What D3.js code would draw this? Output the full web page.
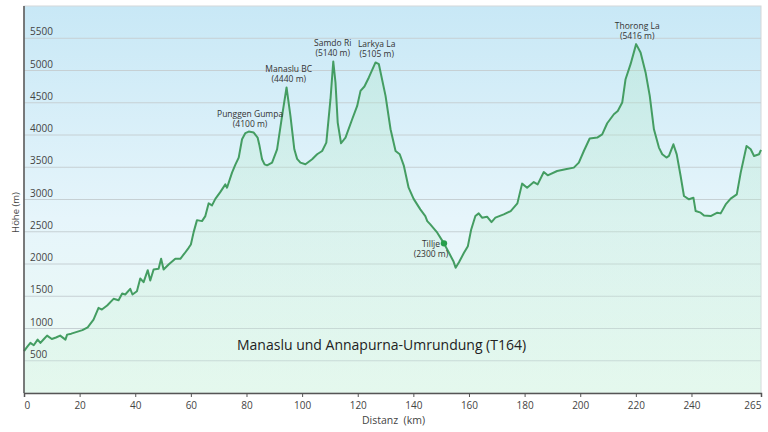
<!DOCTYPE html>
<html>
<head>
<meta charset="utf-8">
<script src="https://cdn.jsdelivr.net/npm/d3@7"></script>
<style>
  body { margin: 0; background: #fff; }
  svg { display: block; font-family: "Open Sans", sans-serif; }
</style>
</head>
<body>
<svg id="chart" width="768" height="432"></svg>
<script>
/* Data */

// Distance along the trek (km)
var distKm = [0, 1.2, 2.3, 3.5, 4.9, 5.9, 7, 8.3, 10, 11.5, 13, 14.9, 15.5, 17, 19, 21, 22.9,
  25, 26.8, 28, 29.9, 32.2, 34, 35.3, 36.4, 38.2, 39, 40.6, 41.8, 43, 44.5, 45.4, 46.6, 48.4,
  49.3, 50.2, 52, 54.4, 56.2, 57.7, 59.2, 60, 61, 62.2, 64, 65.2, 66.4, 67.6, 68.8, 70.5, 72.4,
  73, 74.8, 76, 77.2, 78.4, 79.6, 80.8, 82.6, 84, 84.6, 85.6, 86.5, 87.4, 89.2, 91, 92.8, 94.4,
  95.8, 97.2, 98.2, 99.4, 101.2, 103.6, 105.4, 107.2, 108.7, 110.2, 111.2, 112, 112.8, 114,
  115.6, 118, 119.8, 121, 122.4, 124, 126.4, 127.6, 130, 131.8, 133.6, 135.1, 136.6, 138.3,
  140.1, 142.5, 144.3, 145, 146.1, 148.6, 151, 152.8, 154.4, 155.2, 156.4, 158.2, 159.6, 160.8,
  162.3, 163.5, 164.7, 166.5, 168.1, 169.5, 172.5, 175, 177.4, 179.1, 180.9, 183.3, 184.7,
  186.9, 188.3, 191.7, 194.7, 197.7, 199.5, 201.3, 203.4, 206.1, 207.9, 209.7, 212.1, 213.5,
  215.1, 216.3, 218.1, 220.1, 221.7, 223.5, 225, 226.5, 228.3, 229.5, 231, 231.9, 233.5, 234.7,
  236.1, 237.3, 239.1, 240.7, 241.5, 243.3, 244.5, 246.9, 249.3, 250.5, 252.3, 254.1, 256.3,
  257.7, 259.8, 261.3, 262.5, 264.3, 265];

// Elevation (m)
var elevM = [650, 720, 777, 740, 828, 777, 830, 890, 838, 860, 890, 828, 905, 920, 947, 975, 1019,
  1138, 1320, 1294, 1356, 1460, 1438, 1542, 1527, 1615, 1527, 1578, 1775, 1718, 1904, 1744, 1915, 1926,
  2081, 1915, 1993, 2081, 2081, 2163, 2251, 2303, 2494, 2680, 2665, 2743, 2940, 2909, 3010, 3110, 3235,
  3183, 3417, 3540, 3650, 3934, 4030, 4053, 4038, 3960, 3850, 3623, 3545, 3530, 3572, 3778, 4296, 4737,
  4296, 3778, 3630, 3572, 3546, 3623, 3701, 3752, 3882, 4555, 5140, 4814, 4193, 3872,
  3960, 4244, 4451, 4684, 4752, 4892, 5125, 5098, 4606, 4089, 3752, 3701, 3520, 3183,
  3010, 2847, 2743, 2665, 2614, 2485, 2320, 2174, 2044, 1941, 2028, 2174, 2277, 2536,
  2743, 2785, 2718, 2733, 2650, 2718, 2769, 2821, 2940, 3246, 3183, 3271, 3235,
  3426, 3375, 3442, 3468, 3494, 3572, 3752, 3945, 3960, 4011, 4182, 4322, 4373,
  4503, 4865, 5098, 5409, 5280, 4970, 4606, 4089, 3805, 3701, 3650, 3675, 3856, 3700,
  3364, 3054, 3003, 3028, 2821, 2796, 2753, 2743, 2796, 2785, 2924, 3013, 3080,
  3417, 3830, 3778, 3675, 3701, 3768];

// Named points
var peakNames = ["Punggen Gumpa", "Manaslu BC", "Samdo Ri", "Larkya La", "Thorong La"];
var peakHeights = ["(4100 m)", "(4440 m)", "(5140 m)", "(5105 m)", "(5416 m)"];
var peakKm = [81.3, 95.2, 111, 126.8, 220.5];
var peakElev = [4053, 4737, 5140, 5125, 5409];

var markName = "Tillje";
var markHeight = "(2300 m)";
var markKm = 151;
var markElev = 2320;

// Ticks
var xTicks = [0, 20, 40, 60, 80, 100, 120, 140, 160, 180, 200, 220, 240, 265];
var yTicks = [500, 1000, 1500, 2000, 2500, 3000, 3500, 4000, 4500, 5000, 5500];

var title = "Manaslu und Annapurna-Umrundung (T164)";


/* Layout */

var plotL = 24, plotR = 761, plotT = 6, plotB = 393;

var x = d3.scaleLinear().domain([0, 265]).range([plotL, plotR]);
var y = d3.scaleLinear().domain([0, 6000]).range([plotB, plotT]);

var svg = d3.select("#chart");
var defs = svg.append("defs");

// Plot background: blue at top fading into pale mint
var bg = defs.append("linearGradient").attr("id", "bg")
    .attr("x1", 0).attr("y1", 0).attr("x2", 0).attr("y2", 1);
bg.append("stop").attr("offset", "0%").attr("stop-color", "#c8e8f6");
bg.append("stop").attr("offset", "55%").attr("stop-color", "#e6f5fb");
bg.append("stop").attr("offset", "100%").attr("stop-color", "#ecfaf3");

var fill = defs.append("linearGradient").attr("id", "fill")
    .attr("gradientUnits", "userSpaceOnUse")
    .attr("x1", 0).attr("y1", plotT).attr("x2", 0).attr("y2", plotB);
fill.append("stop").attr("offset", "0%").attr("stop-color", "#a6e4bd").attr("stop-opacity", 0.3);
fill.append("stop").attr("offset", "100%").attr("stop-color", "#d2f3e0").attr("stop-opacity", 0.3);

svg.append("rect")
    .attr("x", plotL).attr("y", plotT)
    .attr("width", plotR - plotL).attr("height", plotB - plotT)
    .attr("fill", "url(#bg)")
    .attr("stroke", "#d4d8da");

// Grid lines
svg.append("g").selectAll("line")
    .data(yTicks).enter().append("line")
    .attr("x1", plotL).attr("x2", plotR)
    .attr("y1", function(d){ return y(d); })
    .attr("y2", function(d){ return y(d); })
    .attr("stroke", "#c6d0d4")
    .attr("stroke-width", 1);

// Elevation profile
var points = distKm.map(function(d, i){ return [d, elevM[i]]; });

var area = d3.area()
    .x(function(d){ return x(d[0]); })
    .y0(plotB)
    .y1(function(d){ return y(d[1]); });

var line = d3.line()
    .x(function(d){ return x(d[0]); })
    .y(function(d){ return y(d[1]); });

svg.append("path").datum(points)
    .attr("d", area)
    .attr("fill", "url(#fill)");

svg.append("path").datum(points)
    .attr("d", line)
    .attr("fill", "none")
    .attr("stroke", "#449d62")
    .attr("stroke-width", 2)
    .attr("stroke-linejoin", "round");

// Y labels sit just above their grid line
svg.append("g").selectAll("text")
    .data(yTicks).enter().append("text")
    .attr("x", plotL + 6)
    .attr("y", function(d){ return y(d) - 3; })
    .attr("font-size", "10px")
    .attr("fill", "#444")
    .text(function(d){ return d; });

// Axes
var xAxis = d3.axisBottom(x)
    .tickValues(xTicks)
    .tickSize(4)
    .tickFormat(d3.format("d"));

var gx = svg.append("g")
    .attr("transform", "translate(0," + plotB + ")")
    .call(xAxis);
gx.select(".domain").attr("stroke", "#555").attr("stroke-width", 1.5);
gx.selectAll(".tick line").attr("stroke", "#555");
gx.selectAll(".tick text")
    .attr("font-family", "Open Sans, sans-serif")
    .attr("font-size", "10px")
    .attr("fill", "#444")
    .attr("dy", "0.9em")
    .attr("text-anchor", function(d){
        return d === 0 ? "start" : (d === 265 ? "end" : "middle");
    });

svg.append("line")
    .attr("x1", plotL).attr("x2", plotL)
    .attr("y1", plotT).attr("y2", plotB)
    .attr("stroke", "#555").attr("stroke-width", 1.5);

svg.append("text")
    .attr("x", (plotL + plotR) / 2 + 1)
    .attr("y", 424)
    .attr("text-anchor", "middle")
    .attr("font-size", "10.5px")
    .attr("fill", "#444")
    .attr("xml:space", "preserve")
    .text("Distanz  (km)");

svg.append("text")
    .attr("transform", "translate(19," + ((plotT + plotB) / 2 + 13) + ") rotate(-90)")
    .attr("text-anchor", "middle")
    .attr("font-size", "9.5px")
    .attr("fill", "#444")
    .text("Höhe (m)");

// Title inside the plot
svg.append("text")
    .attr("x", 237)
    .attr("y", 350)
    .attr("font-size", "14px")
    .attr("fill", "#222")
    .text(title);

// Peak labels
var peaks = svg.append("g").selectAll("g")
    .data(peakNames).enter().append("g");

peaks.append("text")
    .attr("x", function(d, i){ return x(peakKm[i]); })
    .attr("y", function(d, i){ return y(peakElev[i]) - 15; })
    .attr("text-anchor", "middle")
    .attr("font-size", "8.5px")
    .attr("fill", "#333")
    .text(function(d){ return d; });

peaks.append("text")
    .attr("x", function(d, i){ return x(peakKm[i]); })
    .attr("y", function(d, i){ return y(peakElev[i]) - 5; })
    .attr("text-anchor", "middle")
    .attr("font-size", "8.5px")
    .attr("fill", "#333")
    .text(function(d, i){ return peakHeights[i]; });

// Tillje marker
svg.append("circle")
    .attr("cx", x(markKm)).attr("cy", y(markElev))
    .attr("r", 3.2)
    .attr("fill", "#27a04c");

svg.append("text")
    .attr("x", x(markKm) - 13).attr("y", y(markElev) + 4)
    .attr("text-anchor", "middle")
    .attr("font-size", "8.5px")
    .attr("fill", "#333")
    .text(markName);

svg.append("text")
    .attr("x", x(markKm) - 13).attr("y", y(markElev) + 14)
    .attr("text-anchor", "middle")
    .attr("font-size", "8.5px")
    .attr("fill", "#333")
    .text(markHeight);
</script>
</body>
</html>
